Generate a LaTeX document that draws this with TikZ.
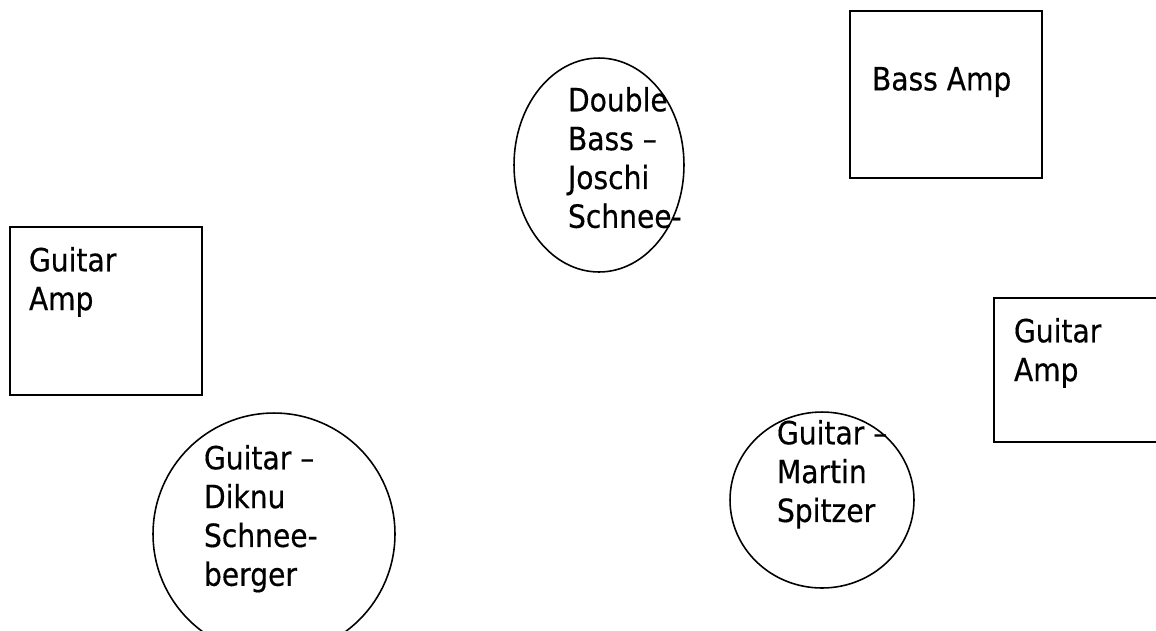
\documentclass[tikz,border=0pt]{standalone}
\usepackage{fontspec}
\setmainfont{DejaVu Sans}[FakeStretch=0.88,FakeBold=0.4]
\usetikzlibrary{shapes.geometric}
\begin{document}
\begin{tikzpicture}[x=0.02cm,y=-0.02cm,
  shapeline/.style={draw=black, line width=0.9pt, inner sep=0pt, outer sep=0pt},
  ampbox/.style={shapeline, rectangle},
  player/.style={shapeline, ellipse},
  lbl/.style={anchor=north west, inner sep=0pt, outer sep=0pt, align=left,
    font=\fontsize{18.2}{22.1}\selectfont}]
\clip (0,0) rectangle (1156,630);
\fill[white] (0,0) rectangle (1156,630);
% shapes
\node[ampbox, minimum width=3.84cm, minimum height=3.34cm] (bassamp) at (946,94.5) {};
\node[ampbox, minimum width=3.84cm, minimum height=3.36cm] (gampl) at (106,311) {};
\node[ampbox, minimum width=3.40cm, minimum height=2.88cm] (gampr) at (1079,370) {};
\node[player, minimum width=3.40cm, minimum height=4.28cm] (dbass) at (599,165) {};
\node[player, minimum width=4.84cm, minimum height=4.84cm] (diknu) at (274,534) {};
\node[player, minimum width=3.68cm, minimum height=3.52cm] (martin) at (822,500) {};
% texts
\node[lbl] (tbassamp) at (872,67) {Bass Amp};
\node[lbl] (tgampl) at (29,247) {Guitar\\Amp};
\node[lbl] (tgampr) at (1014,318) {Guitar\\Amp};
\node[lbl] (tdbass) at (568,87) {Double\\Bass –\\Joschi\\Schnee-};
\node[lbl] (tdiknu) at (204,445) {Guitar –\\Diknu\\Schnee-\\berger};
\node[lbl] (tmartin) at (777,420) {Guitar –\\Martin\\Spitzer};
\end{tikzpicture}
\end{document}
